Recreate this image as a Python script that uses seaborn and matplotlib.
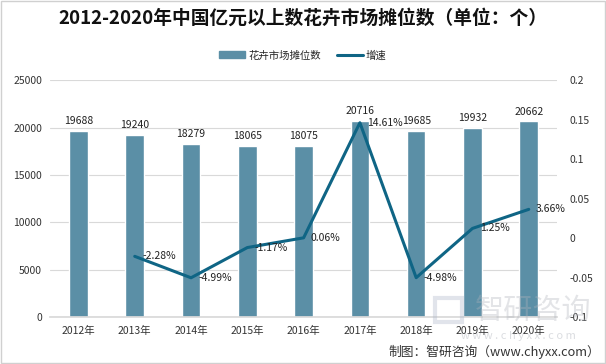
import numpy as np
import pandas as pd
import seaborn as sns
import matplotlib.pyplot as plt
from matplotlib.patches import Patch
from matplotlib.lines import Line2D

years = ['2012年', '2013年', '2014年', '2015年', '2016年', '2017年', '2018年', '2019年', '2020年']
stalls = [19688, 19240, 18279, 18065, 18075, 20716, 19685, 19932, 20662]
growth = [np.nan, -0.0228, -0.0499, -0.0117, 0.0006, 0.1461, -0.0498, 0.0125, 0.0366]
growth_labels = ['', '-2.28%', '-4.99%', '-1.17%', '0.06%', '14.61%', '-4.98%', '1.25%', '3.66%']

bar_color = '#5b8fa6'
line_color = '#0f6585'

sns.set_theme(style='white')
plt.rcParams['font.family'] = ['Noto Sans CJK SC', 'DejaVu Sans']

df = pd.DataFrame({'year': years, 'stalls': stalls, 'growth': growth})

fig = plt.figure(figsize=(6.06, 3.64), dpi=100)
ax = fig.add_axes([0.083, 0.128, 0.836, 0.652])
ax2 = ax.twinx()

sns.barplot(data=df, x='year', y='stalls', color=bar_color, width=0.33,
            saturation=1, ax=ax, zorder=2)
ax.set_ylim(0, 25000)
ax.set_yticks(range(0, 25001, 5000))
ax.grid(axis='y', color='#d9d9d9', linewidth=0.8, zorder=0)
ax.set_xlabel('')
ax.set_ylabel('')
for i, v in enumerate(stalls):
    ax.text(i, v + 500, str(v), ha='center', va='bottom', fontsize=7.5, color='#222222')

xs = np.arange(len(years))
sns.lineplot(x=xs[1:], y=growth[1:], color=line_color, linewidth=2.2, ax=ax2)
ax2.set_ylim(-0.1, 0.2)
ax2.set_yticks([-0.1, -0.05, 0, 0.05, 0.1, 0.15, 0.2])
ax2.set_yticklabels(['-0.1', '-0.05', '0', '0.05', '0.1', '0.15', '0.2'])
for i in range(1, len(years)):
    ax2.text(i + 0.13, growth[i], growth_labels[i], ha='left', va='center',
             fontsize=7.5, color='#222222')

for a in (ax, ax2):
    for s in a.spines.values():
        s.set_visible(False)
    a.tick_params(axis='both', length=0, labelsize=7.5, colors='#333333')
ax.tick_params(axis='y', pad=6)
ax2.tick_params(axis='y', pad=9)
ax.tick_params(axis='x', pad=6)
ax.set_xlim(-0.5, 8.5)
ax.spines['bottom'].set_visible(True)
ax.spines['bottom'].set_color('#d9d9d9')

fig.text(0.5, 0.95, '2012-2020年中国亿元以上数花卉市场摊位数（单位：个）',
         ha='center', va='center', fontsize=13.5, fontweight='bold', color='#111111')

handles = [Patch(color=bar_color, label='花卉市场摊位数'),
           Line2D([0], [0], color=line_color, linewidth=2.2, label='增速')]
fig.legend(handles=handles, loc='center', bbox_to_anchor=(0.5, 0.848), ncol=2,
           frameon=False, fontsize=7.5, handlelength=2.5, columnspacing=1.5,
           handletextpad=0.3)

# watermark
fig.patches.append(plt.Rectangle((0.718, 0.115), 0.045, 0.065, transform=fig.transFigure,
                                 fill=False, edgecolor='#aab4c8', linewidth=3, alpha=0.35))
fig.text(0.88, 0.145, '智研咨询', ha='center', va='center', fontsize=21,
         color='#b0b4bc', alpha=0.35)
fig.text(0.855, 0.078, 'w w w . c h y x x . c o m', ha='center', va='center',
         fontsize=8, color='#b0b4bc', alpha=0.45)
fig.text(0.99, 0.032, '制图：智研咨询（www.chyxx.com）', ha='right', va='center',
         fontsize=9.2, color='#333333')

fig.patches.append(plt.Rectangle((0.001, 0.002), 0.997, 0.995, transform=fig.transFigure,
                                 fill=False, edgecolor='#d0d0d0', linewidth=1))

fig.savefig('out.png', dpi=100)
